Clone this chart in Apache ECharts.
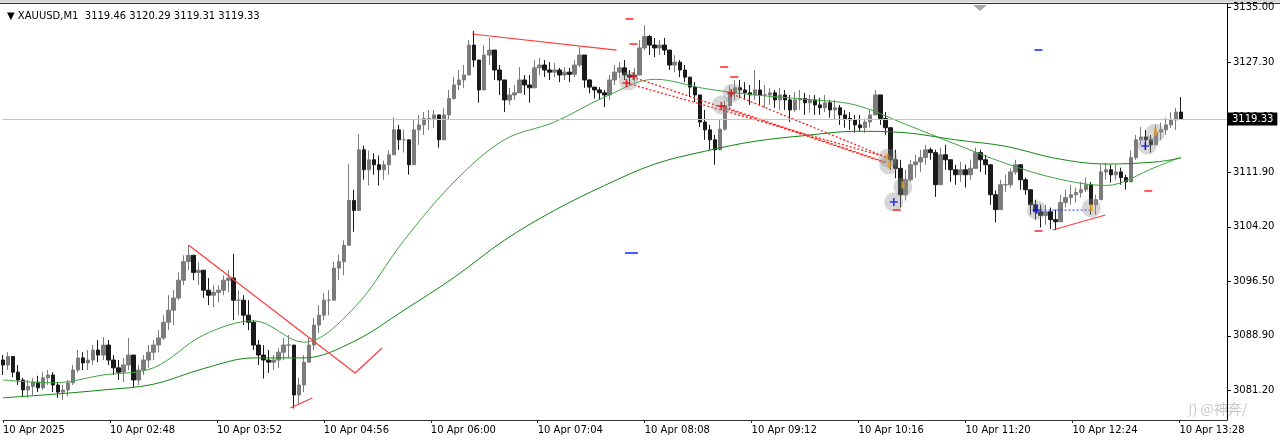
<!DOCTYPE html>
<html><head><meta charset="utf-8">
<script src="https://cdn.jsdelivr.net/npm/echarts@6/dist/echarts.min.js"></script>
<style>html,body{margin:0;padding:0;background:#fff}#c{width:1280px;height:440px}</style>
</head><body><div id="c"></div>
<script>
// ---------- data (minutes counted from 10 Apr 01:44) ----------
const symbolName = 'XAUUSD,M1';
const lastBarOHLC = [3119.46, 3120.29, 3119.31, 3119.33];
const currentPrice = 3119.33;
const barMinutes = 3;
const firstOpen = 3085.5;
const closes = [
3084.8,3086.0,3083.8,3082.7,3081.3,3081.8,3082.4,3081.6,3083.0,3083.4,
3082.0,3081.0,3081.3,3082.3,3084.1,3085.8,3085.1,3085.5,3086.9,3086.2,
3087.6,3085.5,3084.4,3083.8,3084.8,3086.2,3082.7,3084.1,3085.5,3086.6,
3087.6,3088.6,3090.8,3092.5,3094.2,3096.7,3099.3,3100.2,3097.8,3098.1,
3095.3,3094.6,3095.0,3095.3,3096.7,3097.0,3093.9,3093.9,3091.8,3090.8,
3087.6,3086.2,3085.5,3085.2,3085.5,3086.6,3087.6,3087.6,3080.6,3082.0,
3085.2,3087.6,3090.4,3091.8,3093.9,3093.9,3098.4,3099.3,3101.6,3107.9,
3106.5,3115.0,3112.2,3113.6,3112.9,3112.2,3112.9,3114.3,3117.8,3116.4,
3116.4,3112.9,3117.8,3118.5,3119.4,3119.4,3119.9,3116.4,3119.9,3122.2,
3124.1,3124.8,3125.5,3129.7,3127.6,3123.4,3128.3,3129.0,3126.2,3124.8,
3122.0,3122.7,3123.0,3124.8,3124.1,3123.7,3126.5,3126.9,3126.2,3125.9,
3126.2,3125.5,3125.9,3125.6,3126.9,3128.3,3124.8,3123.8,3123.4,3123.0,
3122.7,3124.8,3125.9,3126.5,3125.5,3125.2,3125.5,3129.3,3130.9,3129.7,
3129.3,3129.7,3129.0,3126.9,3127.3,3126.2,3125.2,3123.8,3122.7,3118.9,
3117.8,3116.4,3115.0,3117.9,3121.2,3123.0,3123.7,3123.4,3123.0,3122.7,
3123.4,3122.7,3122.7,3123.0,3122.0,3122.7,3122.0,3120.6,3122.0,3122.2,
3121.6,3122.0,3121.3,3120.9,3121.6,3120.6,3120.9,3119.9,3119.4,3119.2,
3118.5,3118.1,3118.9,3119.9,3122.7,3119.4,3118.1,3113.6,3112.4,3108.7,
3110.8,3112.9,3113.3,3113.9,3115.0,3114.6,3110.1,3114.3,3113.6,3112.2,
3111.5,3112.2,3111.5,3112.4,3114.6,3113.6,3112.9,3108.7,3106.6,3110.1,
3110.1,3111.9,3112.9,3110.8,3109.4,3107.3,3106.3,3105.8,3106.3,3105.2,
3104.9,3107.6,3108.3,3108.7,3109.0,3109.4,3110.1,3107.3,3108.0,3111.9,
3112.2,3111.5,3111.9,3111.1,3110.5,3113.9,3116.4,3116.8,3116.4,3115.7,
3117.5,3117.8,3118.5,3119.2,3120.3,3119.33];
const highs = [
3086.2,3086.6,3085.5,3084.8,3083.0,3082.7,3083.0,3083.3,3083.8,3084.1,
3083.8,3082.4,3082.0,3082.7,3084.8,3086.9,3086.6,3086.9,3087.6,3088.3,
3088.7,3088.3,3086.2,3085.5,3085.8,3088.6,3085.5,3084.8,3086.2,3087.6,
3088.3,3089.7,3091.8,3094.6,3095.3,3097.8,3100.2,3101.6,3100.2,3099.2,
3097.4,3097.0,3096.0,3096.0,3097.4,3098.1,3100.4,3095.3,3094.6,3093.9,
3091.1,3088.3,3087.6,3086.9,3086.2,3087.2,3088.6,3089.0,3085.5,3083.0,
3086.2,3088.6,3091.4,3093.2,3094.9,3095.3,3099.3,3100.3,3102.3,3113.0,
3109.4,3117.2,3115.6,3114.9,3114.5,3114.2,3113.5,3114.9,3119.6,3118.5,
3117.8,3116.4,3119.2,3119.9,3120.3,3120.6,3120.6,3119.9,3120.9,3123.4,
3125.2,3126.2,3126.9,3130.4,3131.7,3127.6,3129.7,3130.7,3128.7,3126.9,
3124.1,3123.7,3124.1,3126.6,3125.5,3125.5,3127.6,3127.9,3127.6,3127.3,
3127.2,3126.5,3126.6,3126.5,3127.6,3129.4,3128.3,3124.9,3123.8,3123.8,
3123.4,3125.5,3126.9,3127.3,3127.6,3126.2,3126.5,3130.4,3132.5,3131.1,
3130.7,3130.4,3130.7,3129.0,3128.3,3127.6,3126.9,3125.2,3124.5,3121.7,
3120.6,3118.5,3117.1,3119.2,3121.9,3124.0,3124.8,3124.8,3124.5,3124.1,
3126.2,3124.8,3124.1,3123.7,3123.4,3123.7,3123.4,3122.7,3123.1,3123.4,
3123.0,3122.7,3122.7,3122.3,3122.7,3122.0,3122.0,3121.3,3120.6,3120.3,
3119.9,3119.9,3119.4,3120.6,3123.4,3122.7,3120.3,3117.1,3115.0,3113.6,
3112.2,3113.6,3114.3,3115.0,3115.7,3115.3,3115.0,3115.3,3115.7,3113.6,
3112.9,3113.3,3112.9,3113.6,3115.3,3115.0,3114.3,3112.5,3109.3,3110.8,
3111.5,3112.4,3113.6,3112.2,3111.1,3109.4,3108.0,3107.3,3107.3,3106.9,
3106.6,3108.7,3109.4,3110.1,3109.7,3110.5,3111.1,3110.5,3108.7,3112.9,
3113.2,3112.9,3112.9,3112.5,3111.5,3114.9,3117.1,3118.2,3117.8,3117.1,
3118.5,3118.8,3119.5,3120.3,3120.9,3122.4];
const lows = [
3083.4,3084.1,3083.1,3082.0,3080.4,3080.2,3080.6,3081.0,3081.3,3082.0,
3081.0,3080.2,3079.9,3080.4,3082.0,3083.8,3084.1,3084.1,3084.8,3085.2,
3085.5,3084.8,3083.4,3082.7,3082.4,3084.1,3081.7,3082.0,3083.4,3084.4,
3085.5,3086.6,3088.3,3089.7,3090.4,3093.9,3096.0,3098.1,3096.7,3096.0,
3094.2,3093.2,3092.9,3093.6,3094.6,3095.0,3091.1,3091.8,3090.4,3089.7,
3086.9,3084.8,3082.9,3083.7,3084.1,3084.4,3085.5,3085.8,3078.7,3079.2,
3081.0,3085.2,3086.9,3089.3,3091.1,3091.8,3095.3,3096.7,3097.4,3102.3,
3103.5,3108.7,3110.8,3110.0,3111.5,3110.0,3110.8,3111.5,3114.3,3115.0,
3114.6,3111.5,3112.9,3115.7,3117.1,3117.8,3118.1,3115.3,3117.1,3119.2,
3122.0,3123.4,3123.7,3125.5,3126.6,3121.6,3123.4,3126.9,3124.8,3122.7,
3120.3,3121.3,3122.0,3123.4,3122.7,3121.6,3124.8,3125.5,3125.2,3124.8,
3125.2,3124.5,3124.8,3124.5,3125.2,3126.6,3123.7,3122.9,3122.2,3122.0,
3121.0,3122.0,3124.1,3125.1,3124.8,3124.1,3124.5,3125.5,3129.0,3128.3,
3128.0,3128.3,3128.3,3126.2,3125.9,3125.2,3124.5,3122.4,3121.7,3118.2,
3116.4,3115.0,3112.9,3115.0,3117.7,3120.6,3122.0,3122.3,3122.0,3121.3,
3122.0,3121.3,3120.9,3121.3,3120.9,3120.6,3120.6,3118.9,3120.3,3120.6,
3119.9,3120.2,3119.9,3119.9,3120.3,3119.5,3119.2,3118.5,3118.1,3117.8,
3117.4,3117.5,3117.4,3118.1,3120.3,3118.5,3117.1,3112.2,3111.0,3106.9,
3107.9,3110.5,3111.1,3111.9,3112.9,3113.6,3108.4,3110.1,3112.2,3110.5,
3110.1,3110.5,3109.7,3110.8,3112.5,3111.9,3111.5,3107.3,3104.8,3106.6,
3109.1,3109.7,3111.5,3109.4,3108.7,3105.9,3105.2,3104.1,3104.5,3103.9,
3103.7,3105.2,3106.9,3107.3,3107.6,3108.3,3109.1,3105.9,3105.9,3108.0,
3110.8,3110.4,3110.8,3110.1,3109.4,3110.8,3113.6,3115.7,3115.0,3114.6,
3115.7,3116.4,3117.1,3118.1,3117.8,3119.2];

const maMinutes = [0,30,60,90,120,150,180,210,240,270,300,330,360,390,420,450,480,510,540,570,600,630,660,690,705];
const maFast = [3082.7,3082.3,3083.4,3084.4,3089.0,3091.0,3088.0,3092.8,3102.3,3110.5,3116.4,3118.9,3122.4,3124.9,3123.6,3122.7,3122.1,3121.3,3118.6,3115.8,3113.1,3111.0,3110.0,3112.6,3114.0];
const maSlow = [3080.2,3080.7,3081.3,3082.1,3084.3,3085.8,3085.8,3088.1,3092.5,3097.1,3102.3,3106.5,3110.0,3113.0,3114.8,3116.2,3117.0,3117.6,3117.4,3116.4,3115.5,3113.8,3113.0,3113.3,3113.85];

const yTicks = [3081.20, 3088.90, 3096.50, 3104.20, 3111.90, 3119.60, 3127.30, 3135.00];
const xTickMinutes = [0, 64, 128, 192, 256, 320, 384, 448, 512, 576, 640, 704];
const xTickLabels = ['10 Apr 2025','10 Apr 02:48','10 Apr 03:52','10 Apr 04:56','10 Apr 06:00','10 Apr 07:04','10 Apr 08:08','10 Apr 09:12','10 Apr 10:16','10 Apr 11:20','10 Apr 12:24','10 Apr 13:28'];

// chart objects (time in minutes, price)
const trendLines = [
  [[111.0, 3101.64], [210.7, 3083.68], [226.9, 3087.19]],
  [[171.9, 3078.77], [185.1, 3080.17]],
  [[280.6, 3131.25], [367.2, 3129.00]],
  [[628.1, 3103.75], [659.7, 3105.85]]
];
const dottedLines = [
  [[373.1, 3124.38], [528.4, 3113.99]],
  [[376.7, 3125.22], [528.4, 3113.15]],
  [[429.9, 3121.15], [529.6, 3113.15]],
  [[436.4, 3122.83], [529.6, 3113.85]]
];
const blueDashLine = [[618.5, 3106.55], [650.7, 3106.55]];
const signalCircles = [[374.3,3124.66],[429.9,3121.29],[436.4,3122.97],[529.6,3113.85],[530.1,3112.87],[538.5,3109.78],[533.1,3107.68],[618.5,3106.55],[651.3,3106.84],[684.8,3115.68],[689.6,3117.36]];
const redCrosses = [[373.1,3124.38],[377.3,3125.36],[429.9,3121.15],[435.8,3122.97]];
const blueCrosses = [[533.1,3107.68],[618.5,3106.55],[683.6,3115.54]];
const goldTicks = [[529.0,3113.99],[530.4,3112.9],[538.5,3110.07],[651.3,3106.84],[689.6,3117.50]];
const redDashes = [[374.9,3133.36],[377.3,3129.85],[431.6,3126.62],[437.6,3125.22],[685.4,3109.23],[534.9,3106.55],[619.7,3103.61]];
const blueDashes = [[619.7,3129.01]];
const blueWideDashes = [[376.1,3100.52]];

// ---------- build ----------
const bars = closes.map((c, i) => [i * barMinutes, i === 0 ? firstOpen : closes[i - 1], c, lows[i], highs[i]]);
const pair = (ts, vs) => ts.map((t, i) => [t, vs[i]]);
const FONT = 'DejaVu Sans';
const crossPath = 'path://M4,0H6V4H10V6H6V10H4V6H0V4H4Z';

const series = [
  {
    type: 'candlestick', data: bars, encode: { x: 0, y: [1, 2, 3, 4] },
    barWidth: 4, clip: true,
    itemStyle: { color: '#7c7c7c', color0: '#1a1a1a', borderColor: '#7c7c7c', borderColor0: '#1a1a1a', borderWidth: 1 },
    markLine: {
      silent: true, symbol: 'none', animation: false,
      lineStyle: { color: '#c4c4c4', type: 'solid', width: 1 },
      label: { show: true, position: 'end', distance: 1, formatter: currentPrice.toFixed(2), backgroundColor: '#000', color: '#fff', padding: [2, 4, 1, 4], fontFamily: FONT, fontSize: 10 },
      data: [{ yAxis: currentPrice }]
    }
  },
  { type: 'line', data: pair(maMinutes, maFast), smooth: 0.35, symbol: 'none', lineStyle: { color: '#3fa33f', width: 1 }, z: 3 },
  { type: 'line', data: pair(maMinutes, maSlow), smooth: 0.35, symbol: 'none', lineStyle: { color: '#118811', width: 1 }, z: 3 }
];
trendLines.forEach(l => series.push({ type: 'line', data: l, symbol: 'none', lineStyle: { color: '#ff3c3c', width: 1.2 }, z: 4 }));
dottedLines.forEach(l => series.push({ type: 'line', data: l, symbol: 'none', lineStyle: { color: '#ff2020', width: 1.3, type: [2, 2] }, z: 4 }));
series.push({ type: 'line', data: blueDashLine, symbol: 'none', lineStyle: { color: '#1030ff', width: 1, type: [2, 2] }, z: 4 });
series.push({ type: 'scatter', data: signalCircles, symbol: 'circle', symbolSize: 19, itemStyle: { color: 'rgba(140,140,140,0.45)' }, z: 5 });
series.push({ type: 'scatter', data: redCrosses, symbol: crossPath, symbolSize: 8, itemStyle: { color: '#e00000' }, z: 6 });
series.push({ type: 'scatter', data: blueCrosses, symbol: crossPath, symbolSize: 8, itemStyle: { color: '#0010e0' }, z: 6 });
series.push({ type: 'scatter', data: goldTicks, symbol: 'rect', symbolSize: [3, 7], itemStyle: { color: '#e0a020' }, z: 6 });
series.push({ type: 'scatter', data: redDashes, symbol: 'rect', symbolSize: [8, 2], itemStyle: { color: '#ff3030' }, z: 6 });
series.push({ type: 'scatter', data: blueDashes, symbol: 'rect', symbolSize: [8, 2], itemStyle: { color: '#2030ff' }, z: 6 });
series.push({ type: 'scatter', data: blueWideDashes, symbol: 'rect', symbolSize: [13, 2], itemStyle: { color: '#2030ff' }, z: 6 });

const chart = echarts.init(document.getElementById('c'), null, { renderer: 'canvas' });
chart.setOption({
  animation: false,
  backgroundColor: '#fff',
  title: {
    text: '\u25BC ' + symbolName + '  ' + lastBarOHLC.map(v => v.toFixed(2)).join(' '),
    left: 2, top: 6,
    textStyle: { fontFamily: FONT, fontSize: 10, fontWeight: 'normal', color: '#000' }
  },
  grid: { left: 0, right: 53, top: 4, bottom: 20, containLabel: false },
  xAxis: {
    type: 'value', min: 0, max: 732.5,
    axisLine: { show: true, onZero: false, lineStyle: { color: '#333', width: 1 } },
    axisTick: { show: true, customValues: xTickMinutes, length: 3, lineStyle: { color: '#333' } },
    axisLabel: {
      customValues: xTickMinutes,
      formatter: v => { const i = xTickMinutes.indexOf(v); return i >= 0 ? xTickLabels[i] : ''; },
      align: 'left', color: '#000', fontFamily: FONT, fontSize: 10, margin: 5
    },
    splitLine: { show: false }
  },
  yAxis: {
    type: 'value', position: 'right', min: 3077.085, max: 3135.463, scale: true,
    axisLine: { show: true, onZero: false, lineStyle: { color: '#000', width: 1 } },
    axisTick: { show: true, customValues: yTicks, length: 4, lineStyle: { color: '#000' } },
    axisLabel: { customValues: yTicks, formatter: v => v.toFixed(2), color: '#000', fontFamily: FONT, fontSize: 10, margin: 6 },
    splitLine: { show: false }
  },
  graphic: [
    { type: 'rect', shape: { x: 0, y: 0, width: 1280, height: 2.5 }, style: { fill: '#d6d6d6' }, silent: true },
    { type: 'line', shape: { x1: 0, y1: 3.5, x2: 1280, y2: 3.5 }, style: { stroke: '#333', lineWidth: 1 }, silent: true },
    { type: 'polygon', shape: { points: [[973, 5], [987, 5], [980, 11]] }, style: { fill: '#a8a8a8' }, silent: true },
    { type: 'text', x: 1188, y: 402, style: { text: '\u0283) @神奔/', fill: '#c8c8c8', font: '14px "Noto Sans CJK SC"' }, silent: true, z: 100 }
  ],
  series: series
});
</script></body></html>
